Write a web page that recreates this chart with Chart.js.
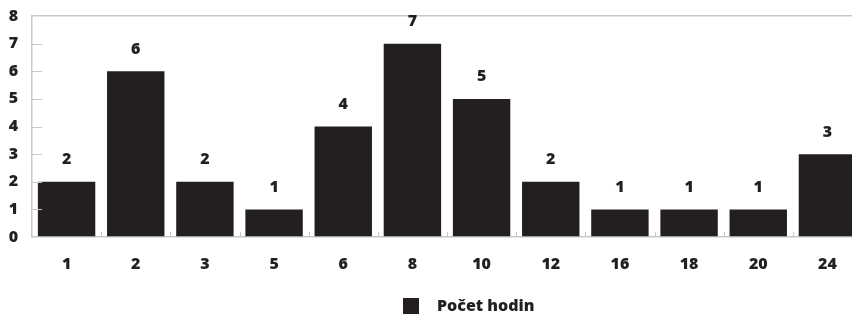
<!DOCTYPE html>
<html>
<head>
<meta charset="utf-8">
<script src="https://cdn.jsdelivr.net/npm/chart.js@4/dist/chart.umd.min.js"></script>
<style>
  html, body { margin: 0; padding: 0; background: #fff; overflow: hidden; }
  #wrap { width: 862px; height: 315px; }
</style>
</head>
<body>
<div id="wrap"><canvas id="graf"></canvas></div>
<script>
// --- DATI ---
const kategorie = ['1', '2', '3', '5', '6', '8', '10', '12', '16', '18', '20', '24'];
const pocetHodin = [2, 6, 2, 1, 4, 7, 5, 2, 1, 1, 1, 3];
const nazevSerie = 'Počet hodin';

const barvaSloupcu = '#231f20';
const barvaOs = '#c8c8c8';
const pismo = "'Open Sans', 'Noto Sans', sans-serif";
const tloustka = '800';
const font = tloustka + ' 16px ' + pismo;

// popisky hodnot nad sloupci + drobne znacky na osach + legenda
const popiskyPlugin = {
    id: 'popisky',
    afterDraw(chart) {
        const ctx = chart.ctx;
        const area = chart.chartArea;
        const yScale = chart.scales.y;
        const xScale = chart.scales.x;
        ctx.save();

        // znacky na ose y (dovnitr)
        ctx.strokeStyle = barvaOs;
        ctx.lineWidth = 1;
        yScale.ticks.forEach(t => {
            if (t.value <= 0 || t.value >= 8) return;
            const y = Math.round(yScale.getPixelForValue(t.value)) + 0.5;
            ctx.beginPath();
            ctx.moveTo(area.left, y);
            ctx.lineTo(area.left + 10, y);
            ctx.stroke();
        });

        // znacky na ose x mezi kategoriemi
        for (let i = 1; i < kategorie.length; i++) {
            const x = Math.round((xScale.getPixelForValue(i - 1) + xScale.getPixelForValue(i)) / 2) + 0.5;
            ctx.beginPath();
            ctx.moveTo(x, area.bottom);
            ctx.lineTo(x, area.bottom - 5);
            ctx.stroke();
        }

        // hodnoty nad sloupci
        ctx.fillStyle = barvaSloupcu;
        ctx.font = font;
        ctx.textAlign = 'center';
        ctx.textBaseline = 'middle';
        const meta = chart.getDatasetMeta(0);
        meta.data.forEach((bar, i) => {
            ctx.fillText(String(pocetHodin[i]), bar.x, bar.y - 22);
        });

        // legenda
        const stred = (area.left + area.right) / 2;
        const x0 = stred - 44;
        const yL = chart.height - 9;
        ctx.fillRect(x0, yL - 8, 16, 16);
        ctx.textAlign = 'left';
        ctx.fillText(nazevSerie, x0 + 34, yL);

        ctx.restore();
    }
};

new Chart(document.getElementById('graf'), {
    type: 'bar',
    data: {
        labels: kategorie,
        datasets: [{
            label: nazevSerie,
            data: pocetHodin,
            backgroundColor: barvaSloupcu,
            borderWidth: 0,
            categoryPercentage: 1,
            barPercentage: 0.83
        }]
    },
    options: {
        responsive: true,
        maintainAspectRatio: false,
        animation: false,
        layout: { padding: { top: 16, left: 0, right: 0, bottom: 38 } },
        plugins: {
            legend: { display: false },
            tooltip: { enabled: false }
        },
        scales: {
            x: {
                grid: { display: false },
                border: { display: true, color: barvaOs, width: 1.5 },
                ticks: {
                    color: barvaSloupcu,
                    font: { family: pismo, size: 16, weight: tloustka },
                    padding: 10
                },
                afterFit(scale) { scale.height = 40; }
            },
            y: {
                min: 0,
                max: 8,
                grid: {
                    drawTicks: false,
                    color: c => c.tick && c.tick.value === 8 ? barvaOs : 'transparent',
                    lineWidth: 1.5
                },
                border: { display: true, color: barvaOs, width: 1.5 },
                ticks: {
                    stepSize: 1,
                    color: barvaSloupcu,
                    font: { family: pismo, size: 16, weight: tloustka },
                    padding: 14
                },
                afterFit(scale) {
                    scale.width = 32;
                    scale.paddingTop = 0;
                    scale.paddingBottom = 0;
                }
            }
        }
    },
    plugins: [popiskyPlugin]
});
</script>
</body>
</html>
